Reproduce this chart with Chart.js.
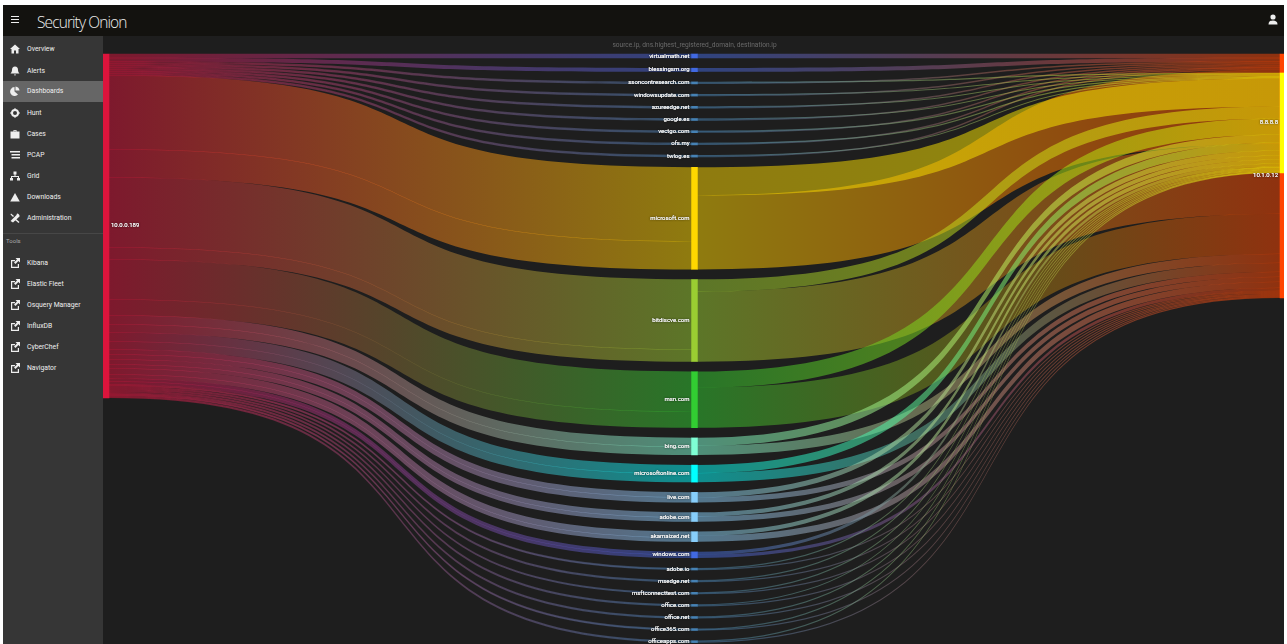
<!DOCTYPE html>
<html>
<head>
<meta charset="utf-8">
<title>Security Onion - Dashboards</title>
<script src="https://cdn.jsdelivr.net/npm/chart.js@4"></script>
<style>
  html, body { margin: 0; width: 1287px; height: 644px; overflow: hidden; background: #fff; font-family: Roboto, sans-serif; }
  #page { position: absolute; left: 0; top: 0; width: 1287px; height: 670px; filter: blur(0.65px); }
  #topbar { position: absolute; left: 3px; top: 5px; width: 1281px; height: 31px; background: #13120f; color: #eee; }
  #menu { position: absolute; left: 8px; top: 11px; width: 8px; height: 7px; background: repeating-linear-gradient(#eee 0, #eee 1.4px, #13120f 1.4px, #13120f 2.8px); }
  #brand { position: absolute; left: 34px; top: 6px; font: 300 15.5px "Open Sans", sans-serif; letter-spacing: -0.9px; white-space: nowrap; }
  #user { position: absolute; left: 1265px; top: 9px; }
  #sidebar { position: absolute; left: 3px; top: 36px; width: 100px; height: 630px; background: #363636; }
  #active { position: absolute; left: 0; top: 45px; width: 100px; height: 21px; background: #666; }
  #divider { position: absolute; left: 0; top: 197px; width: 100px; height: 1px; background: #474747; }
  .item { position: absolute; left: 24px; font-size: 6.8px; line-height: 10px; color: #f0f0f0; white-space: nowrap; }
  .icon { position: absolute; left: 7px; width: 10px; height: 10px; }
  #toolsHead { position: absolute; left: 3px; top: 201px; font-size: 6px; color: #aaa; }
  #chartBox { position: absolute; left: 103px; top: 36px; width: 1181px; height: 630px; background: #1e1e1e; }
  #chartBox canvas { display: block; }
</style>
</head>
<body>
<div id="page">
  <div id="topbar">
    <div id="menu"></div>
    <div id="brand">Security Onion</div>
    <svg id="user" width="10" height="11" viewBox="0 0 10 11"><circle cx="5" cy="3" r="2.6" fill="#eee"/><path d="M0.5 10.5c0-3 2-4 4.5-4s4.500 1 4.500 4z" fill="#eee"/></svg>
  </div>
  <div id="sidebar">
    <div id="active"></div>
    <div id="divider"></div>
    <div id="toolsHead">Tools</div>
  </div>
  <div id="chartBox"><canvas id="sankey" width="1181" height="630"></canvas></div>
</div>
<script>
// sidebar entries
const navItems = ["Overview", "Alerts", "Dashboards", "Hunt", "Cases", "PCAP", "Grid", "Downloads", "Administration"];
const navIcons = ["home", "bell", "pie", "target", "case", "list", "tree", "tri", "tools"];
const toolItems = ["Kibana", "Elastic Fleet", "Osquery Manager", "InfluxDB", "CyberChef", "Navigator"];

// sankey: source.ip -> dns.highest_registered_domain -> destination.ip
const chartTitle = "source.ip, dns.highest_registered_domain, destination.ip";
const sourceLabel = "10.0.0.189";
const destLabels = ["10.1.0.12", "8.8.8.8"];
const domains = [
  "virtualmath.net", "blessingsm.org", "ssoncontresearch.com", "windowsupdate.com", "azureedge.net",
  "google.es", "vectgo.com", "ofs.my", "twlog.es", "microsoft.com", "bitdiscve.com", "msn.com",
  "bing.com", "microsoftonline.com", "live.com", "adobe.com", "akamaized.net", "windows.com",
  "adobe.io", "msedge.net", "msftconnecttest.com", "office.com", "office.net", "office365.com", "officeapps.com",
];
// flow per domain towards each destination
const toOrangeDest = [4, 3.5, 1.2, 1.2, 1.2, 1.2, 1.2, 1.2, 1.2, 74, 70, 40, 9, 9, 5, 5, 6, 3, 1, 1, 1, 1, 1, 1, 1];
const toYellowDest = [0, 0, 0.8, 0.8, 0.8, 0.8, 0.8, 0.8, 0.8, 28, 12, 16, 8, 8, 5, 4, 4, 3, 0.9, 0.9, 0.9, 0.9, 0.9, 0.9, 0.9];

// colours
const sourceColor = "#dc143c";
const destColors = ["#ff4500", "#ffff00"];
const domainColors = [
  "#4169e1", "#4169e1", "#4682b4", "#4682b4", "#4682b4", "#4682b4", "#4682b4", "#4682b4", "#4682b4",
  "#ffd700", "#9acd32", "#32cd32", "#7fffd4", "#00ffff", "#87cefa", "#87cefa", "#87cefa", "#4169e1",
  "#4682b4", "#4682b4", "#4682b4", "#4682b4", "#4682b4", "#4682b4", "#4682b4",
];
const NODE_GAP = 10.2;
const NODE_W = 6;
const YELLOW_START = 19;

function icon(name) {
  const p = {
    home: '<path d="M5 .5 10 5H8.500v4.500H6V6.500H4v3H1.500V5H0z"/>',
    bell: '<path d="M5 .5c2 0 3 1.500 3 3.500 0 2 1 3 1.500 3.500h-9C1 7 2 6 2 4 2 2 3 .5 5 .5zM4 8.500h2a1 1 0 0 1-2 0z"/>',
    pie: '<path d="M4.500 1v4.500L8 8.500A4.500 4.500 0 1 1 4.500 1zM5.500.5a4.500 4.500 0 0 1 4 4h-4z"/>',
    target: '<circle cx="5" cy="5" r="3" fill="none" stroke="#eee" stroke-width="2"/><path d="M4.500 0h1v2h-1zM4.500 8h1v2h-1zM0 4.500h2v1H0zM8 4.500h2v1H8z"/>',
    case: '<path d="M3.500 1h3v1.500h3v7h-9v-7h3zM4.300 1.800v.7h1.400v-.7z"/>',
    list: '<path d="M0 1h10v1.400H0zM1.500 4h8.500v1.400H1.500zM1.500 7h8.500v1.400H1.500z"/>',
    tree: '<path d="M3.500 .5h3v3h-1v1.500H9v2h1v2.500H7V7h1V6H2v1h1v2.500H0V7h1V5h3.500V3.500h-1z"/>',
    tri: '<path d="M5 1 9.800 9.500H.2z"/>',
    tools: '<path d="M1 .5 4 3 3 4 .5 1.500zM7 .5a2.500 2.500 0 0 1 2.500 3L3 9.500 .5 8 6.500 2zM6 6l3.500 3-1 1L5 7z"/>',
    ext: '<path d="M1 2h4v1.200H2.200v5.600h5.600V6H9v4H1z"/><path d="M5.500 0H10v4.500L8.400 3 5.500 6 4 4.500 7 1.600z"/>',
  };
  return '<svg class="icon" viewBox="0 0 10 10" fill="#eee">' + p[name] + "</svg>";
}

function addNavRow(label, iconName, y) {
  const bar = document.getElementById("sidebar");
  bar.insertAdjacentHTML("beforeend", icon(iconName).replace('class="icon"', 'class="icon" style="top:' + (y - 5) + 'px"'));
  const el = document.createElement("div");
  el.className = "item";
  el.style.top = y - 5 + "px";
  el.textContent = label;
  bar.appendChild(el);
}
const navY = [13, 35, 55, 77, 98, 119, 140, 161, 182];
navItems.forEach((t, i) => addNavRow(t, navIcons[i], navY[i]));
toolItems.forEach((t, i) => addNavRow(t, "ext", 227 + i * 21));

// stack the domains down the middle column, then the flows on the outer nodes
const sum = (a) => a.reduce((s, v) => s + v, 0);
const orangeTotal = sum(toOrangeDest);
const yellowTotal = sum(toYellowDest);
const sourceTotal = orangeTotal + yellowTotal;

const links = [];
const bars = [{ x: 0, y: [0, sourceTotal] }];
let midY = 0, srcY = 0, orangeY = 0, yellowY = YELLOW_START;
const yellowLinks = [];
const midSpans = [];
domains.forEach((d, i) => {
  const o = toOrangeDest[i], y = toYellowDest[i];
  midSpans.push([midY, midY + o + y]);
  // left half: orange share first, yellow share underneath
  if (o) links.push({ col: 0, from: srcY, to: midY, w: o, c0: sourceColor, c1: domainColors[i] });
  if (y) links.push({ col: 0, from: srcY + o, to: midY + o, w: y, c0: sourceColor, c1: domainColors[i] });
  // right half: yellow share on top
  if (o) links.push({ col: 1, from: midY + y, to: orangeY, w: o, c0: domainColors[i], c1: destColors[0] });
  if (y) yellowLinks.push({ col: 1, from: midY, to: yellowY, w: y, c0: domainColors[i], c1: destColors[1] });
  srcY += o + y;
  orangeY += o;
  yellowY += y;
  bars.push({ x: 1, y: [midY, midY + o + y] });
  midY += o + y + NODE_GAP;
});
links.push(...yellowLinks);
bars.push({ x: 2, y: [0, orangeTotal] });
bars.push({ x: 2, y: [YELLOW_START, YELLOW_START + yellowTotal] });
const barColors = [sourceColor, ...domainColors, ...destColors];

const flowPlugin = {
  id: "flows",
  beforeDatasetsDraw(chart) {
    const { ctx, scales } = chart;
    ctx.save();
    links.forEach((l) => {
      const x0 = scales.x.getPixelForValue(l.col) + NODE_W / 2;
      const x1 = scales.x.getPixelForValue(l.col + 1) - NODE_W / 2;
      const y0 = scales.y.getPixelForValue(l.from) - 0.15;
      const y1 = scales.y.getPixelForValue(l.to) - 0.15;
      const h = scales.y.getPixelForValue(l.from + l.w) - scales.y.getPixelForValue(l.from) + 0.3;
      const c1x = x0 + ((x1 - x0) / 3) * 2;
      const c2x = x0 + (x1 - x0) / 3;
      const g = ctx.createLinearGradient(x0, 0, x1, 0);
      g.addColorStop(0, l.c0 + "80");
      g.addColorStop(1, l.c1 + "80");
      ctx.fillStyle = g;
      ctx.beginPath();
      ctx.moveTo(x0, y0);
      ctx.bezierCurveTo(c1x, y0, c2x, y1, x1, y1);
      ctx.lineTo(x1, y1 + h);
      ctx.bezierCurveTo(c2x, y1 + h, c1x, y0 + h, x0, y0 + h);
      ctx.closePath();
      ctx.fill();
    });
    ctx.restore();
  },
  afterDatasetsDraw(chart) {
    const { ctx, scales } = chart;
    const put = (text, x, y, align) => {
      ctx.textAlign = align;
      ctx.shadowColor = "rgba(0,0,0,0.9)";
      ctx.shadowBlur = 2;
      ctx.fillText(text, x, y);
      ctx.shadowBlur = 0;
      ctx.fillText(text, x, y);
    };
    ctx.save();
    ctx.font = "6px Roboto, sans-serif";
    ctx.textBaseline = "middle";
    ctx.fillStyle = "#f2f2f2";
    put(sourceLabel, scales.x.getPixelForValue(0) + NODE_W / 2 + 2, scales.y.getPixelForValue(sourceTotal / 2), "left");
    domains.forEach((d, i) => {
      const mid = (midSpans[i][0] + midSpans[i][1]) / 2;
      put(d, scales.x.getPixelForValue(1) - NODE_W / 2 - 2, scales.y.getPixelForValue(mid), "right");
    });
    const destX = scales.x.getPixelForValue(2) - NODE_W / 2 - 2;
    put(destLabels[0], destX, scales.y.getPixelForValue(orangeTotal / 2), "right");
    put(destLabels[1], destX, scales.y.getPixelForValue(YELLOW_START + yellowTotal / 2), "right");
    ctx.shadowBlur = 0;
    ctx.textAlign = "center";
    ctx.font = "6.6px Roboto, sans-serif";
    ctx.fillStyle = "#6a6a6a";
    ctx.fillText(chartTitle, scales.x.getPixelForValue(1), 9);
    ctx.restore();
  },
};

new Chart(document.getElementById("sankey"), {
  type: "bar",
  data: {
    datasets: [{
      data: bars,
      backgroundColor: barColors,
      borderWidth: 0,
      barThickness: NODE_W,
      grouped: false,
      clip: false,
    }],
  },
  options: {
    responsive: false,
    animation: false,
    events: [],
    layout: { padding: { left: 3, right: 1, top: 18, bottom: 0 } },
    plugins: { legend: { display: false }, tooltip: { enabled: false } },
    scales: {
      x: { type: "linear", min: 0, max: 2, offset: false, display: false },
      y: { type: "linear", min: 0, max: 612, reverse: true, display: false },
    },
  },
  plugins: [flowPlugin],
});
</script>
</body>
</html>
